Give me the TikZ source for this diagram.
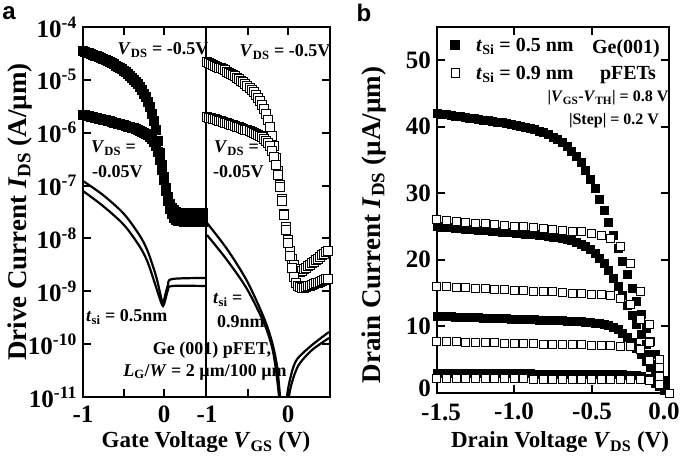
\documentclass[tikz,border=0pt]{standalone}
\usepackage{fontspec}
\setmainfont{Liberation Serif}
\newfontfamily\lsans{Liberation Sans}
\tikzset{
  curveline/.style={line width=2.2pt},
  frameline/.style={line width=2.6pt},
  tickl/.style={line width=2pt},
  fsq/.style={fill=black,draw=black,line width=0.5pt},
  osq/.style={fill=white,draw=black,line width=1pt},
  lab/.style={font=\fontsize{25}{25}\bfseries\selectfont,inner sep=0pt},
  alab/.style={font=\fontsize{27}{27}\bfseries\selectfont,inner sep=0pt},
  hlab/.style={font=\fontsize{23}{23}\bfseries\selectfont,inner sep=0pt},
  ilab/.style={font=\fontsize{18}{18}\bfseries\selectfont,inner sep=0pt},
  plab/.style={font=\fontsize{24}{24}\lsans\bfseries\selectfont,inner sep=0pt}
}
\begin{document}
\begin{tikzpicture}[x=1pt,y=-1pt,
  declare function={
    sp(\u)=(\u>4)?log10(max(\u,0.001)):((\u>-4)?log10(ln(1+exp(max(min(\u,9),-4)))):\u/2.302585);
    lsum(\p,\q)=max(\p,\q)+log10(1+pow(10,-abs(\p-\q)));
    smin(\p,\q)=min(\p,\q)-log10(1+pow(10,-abs(\p-\q)));
    aon(\w)=-5.95+1.1*sp((-0.08-\w)/0.04);
    bon(\w)=-6.12+1.1*sp((-0.17-\w)/0.04);
    LA1(\w)=lsum(-7.52,aon(\w));
    LA2(\w)=lsum(-7.68,smin(aon(\w),-5.63-0.38*(\w+1)));
    LB1(\w)=lsum(-8.65+1.2*max(\w-0.15,0),bon(\w));
    LB2(\w)=lsum(-9.0+0.6*max(\w-0.1,0),smin(bon(\w),-5.66-0.46*(\w+1)));
    gg(\z)=min(\z,5)/pow(1+pow(min(\z,5),6),1/6);
    idd(\w,\s,\k)=\s*(1+0.08*\w)*gg(\k*\w);
  }]
\useasboundingbox (0,0) rectangle (685,460);
% ---------- frames and ticks first ----------
\draw[frameline] plot coordinates {(83,27) (330,27) (330,397) (83,397) (83,27) (84,27)};
\draw[frameline] plot coordinates {(206,27) (206,397)};
\draw[frameline] plot coordinates {(437,27) (669,27) (669,393) (437,393) (437,27) (438,27)};
\foreach \yy in {80,133,186,238,291,344} {
  \draw[tickl] plot coordinates {(83,\yy) (91,\yy)};
  \draw[tickl] plot coordinates {(322,\yy) (330,\yy)};
}
\foreach \xx in {124,164,248,288} {
  \draw[tickl] plot coordinates {(\xx,389) (\xx,397)};
  \draw[tickl] plot coordinates {(\xx,27) (\xx,35)};
}
\foreach \yy in {326,260,193,127,60} {
  \draw[tickl] plot coordinates {(437,\yy) (445,\yy)};
  \draw[tickl] plot coordinates {(661,\yy) (669,\yy)};
}
\foreach \xx in {514,592} {
  \draw[tickl] plot coordinates {(\xx,385) (\xx,393)};
  \draw[tickl] plot coordinates {(\xx,27) (\xx,35)};
}
% ---------- panel a ----------
\foreach \i in {0,...,59} {
  \pgfmathsetmacro\vv{-1+0.025*\i}
  \pgfmathsetmacro\qx{83+81*(\vv+1)}
  \pgfmathsetmacro\qy{27+52.86*(-4-LA1(\vv))}
  \pgfmathsetmacro\qz{27+52.86*(-4-LA2(\vv))}
  \draw[fsq] (\qx-4.5,\qy-4.5) rectangle (\qx+4.5,\qy+4.5);
  \draw[fsq] (\qx-4.5,\qz-4.5) rectangle (\qx+4.5,\qz+4.5);
}
\draw[curveline] plot[smooth] coordinates {(83,181) (103,195) (124,214) (140,236) (148,252) (156,276) (161,297) (163,304) (165,296) (168,285) (172,279) (205,278)};
\draw[curveline] plot[smooth] coordinates {(83,191) (103,206) (124,225) (140,247) (148,263) (156,287) (161,302) (163,306) (165,301) (168,290) (172,286) (205,286)};
\foreach \i in {0,...,60} {
  \pgfmathsetmacro\vv{-1+0.025*\i}
  \pgfmathsetmacro\qx{207+81*(\vv+1)}
  \pgfmathsetmacro\qy{27+52.86*(-4-LB1(\vv))}
  \draw[osq] (\qx-4.5,\qy-4.5) rectangle (\qx+4.5,\qy+4.5);
}
\foreach \i in {0,...,60} {
  \pgfmathsetmacro\vv{-1+0.025*\i}
  \pgfmathsetmacro\qx{207+81*(\vv+1)}
  \pgfmathsetmacro\qz{27+52.86*(-4-LB2(\vv))}
  \draw[osq] (\qx-4.5,\qz-4.5) rectangle (\qx+4.5,\qz+4.5);
}
\draw[curveline] plot[smooth] coordinates {(207,223) (227,249) (247,281) (264,318) (272,342) (277,366) (280,396)};
\draw[curveline] plot[smooth] coordinates {(207,235) (227,260) (247,289) (264,323) (272,347) (276,370) (279,396)};
\draw[curveline] plot[smooth] coordinates {(287,396) (289,384) (293,368) (298,358) (312,345) (329,332)};
\draw[curveline] plot[smooth] coordinates {(289,396) (291,386) (295,373) (300,363) (312,350) (329,338)};
% y labels a
\foreach \ee [count=\i from 0] in {4,...,11} {
  \node[lab,anchor=east] (ya\ee) at (77,{27+52.86*\i}) {10\textsuperscript{-\ee}};
}
\node[lab] (xa1) at (83,414) {-1};
\node[lab] (xa2) at (164,414) {0};
\node[lab] (xa3) at (207,414) {-1};
\node[lab] (xa4) at (288,414) {0};
\node[alab,rotate=90] (yta) at (20,212) {Drive Current \textit{I}\textsubscript{DS} (A/µm)};
\node[hlab] (xta) at (206,442) {Gate Voltage \textit{V}\textsubscript{GS} (V)};
\node[plab] (pa) at (9,13) {a};
\node[ilab] (t1) at (163,50) {\textit{V}\textsubscript{DS} = -0.5V};
\node[ilab] (t2) at (285,52) {\textit{V}\textsubscript{DS} = -0.5V};
\node[ilab,anchor=west] (t3) at (91,148) {\textit{V}\textsubscript{DS} =};
\node[ilab,anchor=west] (t4) at (92,172) {-0.05V};
\node[ilab,anchor=west] (t5) at (214,148) {\textit{V}\textsubscript{DS} =};
\node[ilab,anchor=west] (t6) at (213,172) {-0.05V};
\node[ilab,anchor=west] (t7) at (86,317) {\textit{t}\textsubscript{si} = 0.5nm};
\node[ilab,anchor=west] (t8) at (213,300) {\textit{t}\textsubscript{si} =};
\node[ilab,anchor=west] (t9) at (217,322) {0.9nm};
\node[ilab] (t10) at (212,350) {Ge (001) pFET,};
\node[ilab] (t11) at (205,372) {\textit{L}\textsubscript{G}/\textit{W} = 2 µm/100 µm};
% ---------- panel b ----------
\foreach \s/\k in {37.5/1.72,22.3/2.16,10.3/3.1,2.7/6} {
  \foreach \i in {0,...,50} {
    \pgfmathsetmacro\vv{0.03*\i}
    \pgfmathsetmacro\qx{669-154.7*\vv}
    \pgfmathsetmacro\qy{393-6.66*idd(\vv,\s,\k)}
    \draw[fsq] (\qx-4,\qy-4) rectangle (\qx+4,\qy+4);
  }
}
\foreach \s/\k in {23.2/3.5,14.3/4.2,6.9/5.8,1.96/10} {
  \foreach \i in {0,...,24} {
    \pgfmathsetmacro\vv{0.0625*\i}
    \pgfmathsetmacro\qx{669-154.7*\vv}
    \pgfmathsetmacro\qy{393-6.66*idd(\vv,\s,\k)}
    \draw[osq] (\qx-4,\qy-4) rectangle (\qx+4,\qy+4);
  }
}
\foreach \v in {10,20,...,50} {
  \node[lab,anchor=east] (yb\v) at (431,{393-6.66*\v}) {\v};
}
\node[lab,anchor=east] (yb0) at (431,388) {0};
\node[lab] (xb1) at (441,412) {-1.5};
\node[lab] (xb2) at (514,411) {-1.0};
\node[lab] (xb3) at (592,411) {-0.5};
\node[lab] (xb4) at (664,411) {0.0};
\node[alab,rotate=90] (ytb) at (374,225) {Drain Current \textit{I}\textsubscript{DS} (µA/µm)};
\node[hlab] (xtb) at (560,442) {Drain Voltage \textit{V}\textsubscript{DS} (V)};
\node[plab] (pb) at (364,13) {b};
\node[fsq,minimum size=9pt,inner sep=0pt] (l1) at (455,45) {};
\node[osq,minimum size=8pt,inner sep=0pt] (l2) at (455,73) {};
\node[ilab,anchor=west,font=\fontsize{20}{20}\bfseries\selectfont] (tb1) at (476,46) {\textit{t}\textsubscript{Si} = 0.5 nm};
\node[ilab,anchor=west,font=\fontsize{20}{20}\bfseries\selectfont] (tb2) at (476,74) {\textit{t}\textsubscript{Si} = 0.9 nm};
\node[ilab,font=\fontsize{20}{20}\bfseries\selectfont] (tb3) at (626,49) {Ge(001)};
\node[ilab,font=\fontsize{20}{20}\bfseries\selectfont] (tb4) at (628,75) {pFETs};
\node[ilab,font=\fontsize{16}{16}\bfseries\selectfont] (tb5) at (608,98) {|\textit{V}\textsubscript{GS}-\textit{V}\textsubscript{TH}| = 0.8 V};
\node[ilab,font=\fontsize{16}{16}\bfseries\selectfont] (tb6) at (614,121) {|Step| = 0.2 V};
\end{tikzpicture}
\end{document}
